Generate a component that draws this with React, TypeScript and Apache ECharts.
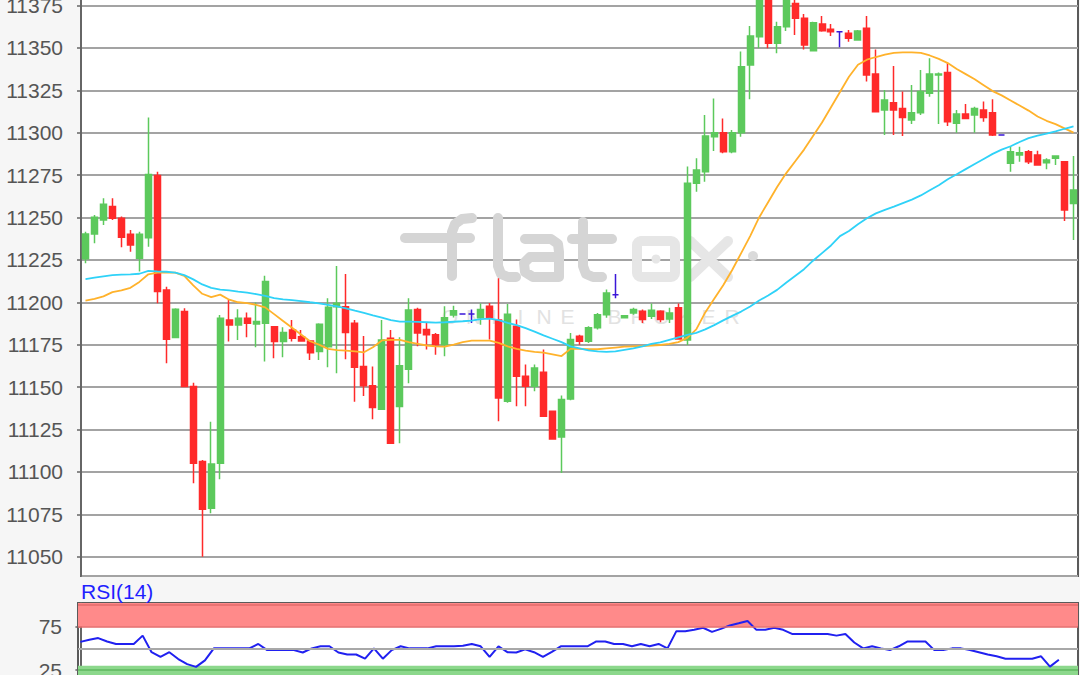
import { useEffect, useRef } from 'react';
import * as echarts from 'echarts';

// OHLC per session
const open = [11225.7,11240.3,11248.5,11256.4,11249.5,11240.1,11225.9,11238.1,11274.7,11207.3,11179.2,11194.5,11150.3,11106.1,11078.5,11105.1,11189.6,11186.6,11190.5,11187.2,11187.6,11185.6,11176.8,11183.7,11179.7,11177.2,11170.9,11173.8,11197.4,11197.4,11187.6,11162.1,11150.7,11136.9,11178.8,11138.5,11160.5,11195.7,11183.9,11180.9,11175.0,11192.5,11193.1,11193.1,11190.8,11197.6,11189.6,11141.6,11185.9,11156.4,11150.5,11158.7,11135.7,11120.6,11143.0,11180.0,11177.0,11184.9,11192.7,11204.4,11190.8,11193.7,11194.7,11191.7,11194.7,11190.2,11196.7,11177.8,11270.1,11277.0,11297.6,11300.0,11288.8,11300.0,11339.9,11356.6,11390.0,11352.7,11362.5,11376.2,11367.4,11348.3,11364.1,11360.9,11359.5,11358.6,11354.6,11361.5,11334.6,11313.4,11317.7,11314.3,11307.5,11311.8,11323.2,11334.0,11335.4,11305.5,11311.0,11310.4,11313.4,11311.8,11298.6,11281.9,11286.8,11288.8,11286.8,11282.3,11284.9,11282.9,11258.3];
const close = [11240.3,11250.1,11257.8,11249.5,11238.3,11233.8,11240.1,11275.4,11206.3,11178.2,11195.9,11150.3,11105.1,11077.9,11104.7,11190.5,11186.6,11190.5,11187.6,11188.6,11212.2,11176.8,11182.1,11178.8,11177.2,11170.3,11187.0,11197.0,11199.4,11182.1,11161.7,11150.7,11137.9,11177.8,11116.9,11162.5,11195.5,11181.9,11180.9,11175.0,11190.8,11195.0,11193.1,11193.1,11195.7,11190.8,11143.6,11193.0,11156.4,11150.5,11161.3,11132.8,11119.4,11142.6,11178.0,11177.0,11184.9,11192.7,11205.5,11204.4,11192.1,11195.7,11189.8,11195.3,11189.8,11193.7,11178.4,11270.1,11278.0,11298.0,11300.0,11288.8,11300.0,11338.9,11357.0,11392.0,11352.7,11362.5,11385.0,11367.4,11351.7,11364.8,11360.1,11359.5,11359.5,11355.6,11359.9,11334.0,11312.4,11319.3,11313.4,11309.0,11311.8,11324.2,11334.6,11334.6,11306.5,11311.0,11308.4,11314.3,11309.0,11298.6,11298.6,11288.8,11288.2,11282.9,11280.9,11283.9,11286.2,11254.4,11266.2];
const low = [11223.0,11234.8,11245.6,11248.5,11232.4,11229.8,11218.1,11232.8,11199.4,11164.0,11179.2,11150.3,11093.3,11050.0,11075.6,11095.6,11176.8,11177.8,11179.4,11173.5,11165.0,11167.0,11167.6,11176.8,11176.8,11166.0,11166.0,11161.7,11158.1,11166.4,11141.4,11144.8,11131.0,11136.9,11116.9,11116.9,11152.2,11174.0,11172.1,11169.1,11168.2,11191.0,11193.1,11187.8,11186.8,11178.0,11129.8,11140.7,11138.7,11138.7,11147.5,11132.8,11119.4,11099.4,11142.2,11175.0,11176.0,11183.9,11190.8,11202.3,11190.5,11192.7,11187.8,11190.2,11188.2,11187.8,11178.0,11174.8,11265.2,11271.1,11289.2,11287.8,11287.8,11297.6,11319.7,11349.7,11349.7,11346.8,11360.0,11357.6,11349.1,11348.3,11359.5,11357.0,11350.3,11353.6,11354.2,11330.1,11312.4,11298.6,11298.6,11298.0,11305.1,11310.4,11321.2,11305.1,11303.9,11300.0,11307.9,11300.0,11306.5,11298.0,11298.6,11277.0,11282.9,11281.5,11280.9,11278.4,11280.9,11247.9,11236.7];
const high = [11241.6,11251.5,11261.3,11261.3,11250.5,11242.6,11241.6,11309.0,11277.0,11209.2,11196.4,11196.4,11152.6,11107.0,11129.6,11192.5,11201.4,11195.9,11193.9,11199.8,11215.7,11186.0,11185.2,11189.6,11183.7,11177.8,11187.6,11202.3,11221.4,11216.7,11189.6,11180.1,11162.1,11189.6,11183.7,11179.4,11202.3,11196.7,11187.8,11181.9,11197.6,11198.0,11193.1,11195.7,11199.2,11199.6,11214.1,11199.0,11189.8,11163.3,11163.3,11172.1,11135.7,11145.0,11181.9,11180.9,11185.9,11193.7,11207.5,11216.7,11192.5,11196.7,11195.7,11199.2,11195.3,11196.7,11199.2,11280.0,11284.9,11310.4,11320.2,11308.4,11301.6,11347.8,11362.9,11398.0,11395.0,11365.4,11392.0,11382.0,11370.0,11365.4,11368.8,11364.1,11359.5,11360.5,11360.5,11368.8,11349.1,11325.2,11339.3,11324.2,11328.1,11336.9,11343.8,11335.4,11340.9,11313.4,11316.9,11315.3,11318.3,11319.7,11298.6,11291.7,11291.7,11289.8,11289.4,11284.9,11286.2,11282.9,11286.2];

// moving averages (orange = fast, cyan = slow)
const maFast = [11201,11202,11203.5,11206,11207,11208.5,11212,11216.5,11217.5,11217.5,11217.5,11215.5,11210,11205,11203,11204.5,11201.5,11200,11199.5,11198.5,11197,11193,11189,11185,11181,11177,11175,11172.5,11171.8,11171.5,11171,11170.5,11173.5,11177.5,11177.8,11177.8,11176.5,11175.5,11174.5,11174,11173.8,11175,11176.5,11177.4,11177.4,11177.4,11176,11174,11172.5,11171.5,11170.8,11170.3,11169.3,11168.3,11172.5,11172.5,11172.3,11172.3,11172.8,11173.3,11173.8,11174,11174.2,11174.5,11174.8,11175.5,11176.5,11179,11184,11194,11202,11210,11219,11229,11239,11250,11259,11268,11276,11283,11290,11298,11306,11315,11324,11333,11340,11343,11344.6,11346,11347,11347.3,11347.3,11347,11345.5,11343.5,11341,11337.5,11334.5,11331.5,11328,11324.5,11322,11319,11316,11313,11309.5,11307,11305,11302.5,11300];
const maSlow = [11213.7,11214.5,11215.3,11216,11216.3,11216.5,11216.8,11218.5,11218.2,11218,11217.5,11216,11213.5,11210.5,11208.5,11207.5,11207,11206.3,11205.7,11204.8,11203.7,11202.5,11201.7,11201.2,11200.7,11200,11199.4,11198.5,11197.6,11196.4,11195,11193.7,11192.3,11191,11189.5,11188.6,11188.6,11188.4,11188.2,11188,11188.2,11188.5,11188.8,11189.2,11190,11190.4,11189.5,11187.8,11186.5,11184.7,11182.7,11180.5,11178.5,11176.5,11174,11172.8,11171.6,11171,11170.8,11171,11171.9,11172.8,11174,11175.5,11176.3,11177.8,11179.3,11180.7,11182,11184,11186.5,11189.3,11192,11194.5,11197.5,11201,11204,11207.3,11211.5,11215.5,11219.5,11224.5,11229,11233.5,11239,11242,11246,11249.5,11252.4,11254.5,11256.4,11258.5,11260.5,11263,11266,11269,11272.5,11275.5,11278.5,11281.5,11284.5,11287.5,11290,11292,11294.5,11296.8,11298.3,11299.5,11300.8,11302.3,11303.7];

// RSI(14)
const rsi14 = [57.5,60,61.9,58,55.1,55.1,55.1,64.7,45.6,40.1,45.6,37.7,31.8,28.6,36.1,50,50,50,50,50,55.1,48,48,48,48,45.2,50,52.4,52.4,45.2,42.9,42.9,38.1,50,38.1,48,52.4,50,50,50,52.4,52.4,52.4,53,55.1,52.4,40.1,52.4,45.6,45.2,48.8,45.6,40.1,46,52.4,52.4,52.4,52.4,58,58,55.1,55.1,52.4,55.1,52.4,55.1,50,69.9,69.9,71.5,73.8,69,72.5,76.5,79,81.7,71.4,71.4,73.8,71.4,66.7,66.7,66.7,66.7,66.7,64.7,66.7,56.8,50,52.4,50,48,52.4,58,58,58,48,48,50,50,48,45.6,43,40.8,38.1,38.1,38.1,38.1,40.8,28.9,36.9];

const priceLabelTop = 11375;
const rsiLabels = [25, 75];
const watermarkSub = 'ONLINE BROKER';

export default function App() {
  const ref = useRef<HTMLDivElement>(null);
  useEffect(() => {
    const chart = echarts.init(ref.current!, null, { renderer: 'svg' });
    const cats = open.map((_, i) => String(i + 1));
    const candles = open.map((o, i) => [o, close[i], low[i], high[i]]);
    const rsiPts = rsi14.map((v, i) => [i, v]);
    const font = 'Liberation Sans, Arial, sans-serif';
    const wmDark = '#d5d5d5';
    const wmLight = '#e6e6e6';
    const stroke = (c: string) => ({ stroke: c, lineWidth: 10, lineCap: 'round', lineJoin: 'round', fill: null });
    const subLetters = watermarkSub.split('').map((ch, i) => ({
      type: 'text', x: 450 + i * 23.5, y: 316, z: 1, silent: true,
      style: { text: ch, fill: '#e2e2e2', font: '21px Liberation Sans', textAlign: 'center', textVerticalAlign: 'middle' },
    }));
    chart.setOption({
      animation: false,
      backgroundColor: '#f6f6f6',
      title: {
        text: 'RSI(14)', left: 81, top: 581, padding: 0,
        textStyle: { color: '#1f1fff', fontSize: 21, fontWeight: 'normal', fontFamily: font },
      },
      graphic: [
        { type: 'line', z: 1, silent: true, shape: { x1: 405, y1: 238, x2: 470, y2: 238 }, style: stroke(wmDark) },
        { type: 'polyline', z: 1, silent: true, shape: { points: [[452, 276], [452, 232], [455, 224], [462, 219], [472, 218]] }, style: stroke(wmDark) },
        { type: 'polyline', z: 1, silent: true, shape: { points: [[498, 218], [498, 266], [501, 274], [508, 277], [516, 277]] }, style: stroke(wmDark) },
        { type: 'polyline', z: 1, silent: true, shape: { points: [[525, 239], [551, 239], [558, 244], [559, 252], [559, 277], [533, 277], [525, 272], [524, 263], [530, 257], [559, 257]] }, style: stroke(wmDark) },
        { type: 'polyline', z: 1, silent: true, shape: { points: [[583, 222], [583, 266], [586, 274], [593, 277], [602, 277]] }, style: stroke(wmDark) },
        { type: 'line', z: 1, silent: true, shape: { x1: 572, y1: 239, x2: 612, y2: 239 }, style: stroke(wmDark) },
        { type: 'rect', z: 1, silent: true, shape: { x: 637, y: 241, width: 38, height: 36, r: 4 }, style: stroke(wmLight) },
        { type: 'circle', z: 1, silent: true, shape: { cx: 656, cy: 259, r: 4.5 }, style: { fill: wmLight } },
        { type: 'line', z: 1, silent: true, shape: { x1: 690, y1: 241, x2: 728, y2: 277 }, style: stroke(wmLight) },
        { type: 'line', z: 1, silent: true, shape: { x1: 728, y1: 241, x2: 690, y2: 277 }, style: stroke(wmLight) },
        { type: 'circle', z: 1, silent: true, shape: { cx: 753, cy: 256, r: 5 }, style: { fill: '#dadada' } },
        ...subLetters,
      ],
      grid: [
        { left: 81, top: -40, width: 997, height: 616, show: true, outerBoundsMode: 'none', containLabel: false, backgroundColor: '#ffffff', borderColor: '#5a5a5a', borderWidth: 2 },
        { left: 78, top: 603, width: 1000, height: 110.3, show: true, outerBoundsMode: 'none', containLabel: false, backgroundColor: '#ffffff', borderColor: '#5a5a5a', borderWidth: 2 },
      ],
      xAxis: [
        { type: 'category', gridIndex: 0, data: cats, boundaryGap: true, axisLine: { show: false }, axisTick: { show: false }, axisLabel: { show: false }, splitLine: { show: false } },
        { type: 'value', gridIndex: 1, min: -0.27, max: 112.15, show: false },
      ],
      yAxis: [
        {
          type: 'value', gridIndex: 0, min: 11038.6, max: 11401.8, minInterval: 25, maxInterval: 25,
          axisLine: { show: true, lineStyle: { color: '#666', width: 2 } },
          axisTick: { show: true, length: 4, lineStyle: { color: '#666', width: 1.5 } },
          axisLabel: {
            color: '#555', fontSize: 21, fontFamily: font, margin: 18, showMinLabel: false, showMaxLabel: false,
            formatter: (v: number) => (v > priceLabelTop ? '' : String(v)),
          },
          splitLine: { show: true, lineStyle: { color: '#a3a3a3', width: 2 } },
        },
        {
          type: 'value', gridIndex: 1, min: -25, max: 102.4,
          axisLine: { show: true, lineStyle: { color: '#666', width: 2 } },
          axisTick: { show: true, length: 5, customValues: rsiLabels, lineStyle: { color: '#666', width: 1.5 } },
          axisLabel: { color: '#555', fontSize: 21, fontFamily: font, margin: 16, customValues: rsiLabels, formatter: (v: number) => String(v) },
          splitLine: { show: false },
        },
      ],
      series: [
        {
          type: 'candlestick', xAxisIndex: 0, yAxisIndex: 0, data: candles, barWidth: 6.5, z: 3,
          itemStyle: { color: '#5cc95c', color0: '#ff2a2a', borderColor: '#5cc95c', borderColor0: '#ff2a2a', borderColorDoji: '#3a17d8', borderWidth: 1.5 },
        },
        { type: 'line', xAxisIndex: 0, yAxisIndex: 0, data: maFast, showSymbol: false, z: 4, lineStyle: { color: '#ffb22b', width: 1.8 } },
        { type: 'line', xAxisIndex: 0, yAxisIndex: 0, data: maSlow, showSymbol: false, z: 4, lineStyle: { color: '#2fd2f8', width: 1.8 } },
        {
          type: 'line', xAxisIndex: 1, yAxisIndex: 1, data: rsiPts, showSymbol: false, z: 4,
          lineStyle: { color: '#2020f0', width: 2 },
          markArea: {
            silent: true,
            data: [
              [{ yAxis: 75, itemStyle: { color: '#ff8a8a' } }, { yAxis: 102.4 }],
              [{ yAxis: -25, itemStyle: { color: '#8cd88c' } }, { yAxis: 30 }],
            ],
          },
          markLine: {
            silent: true, symbol: 'none', label: { show: false },
            data: [
              { yAxis: 100, lineStyle: { color: '#e56a6a', width: 1.5, type: 'solid' } },
              { yAxis: 75, lineStyle: { color: '#e56a6a', width: 1.5, type: 'solid' } },
              { yAxis: 50, lineStyle: { color: '#a8a8a8', width: 2, type: 'solid' } },
              { yAxis: 25, lineStyle: { color: '#5fb85f', width: 1.5, type: 'solid' } },
            ],
          },
        },
      ],
    });
    return () => chart.dispose();
  }, []);
  return <div ref={ref} style={{ position: 'fixed', left: 0, top: 0, width: 1080, height: 675 }} />;
}
